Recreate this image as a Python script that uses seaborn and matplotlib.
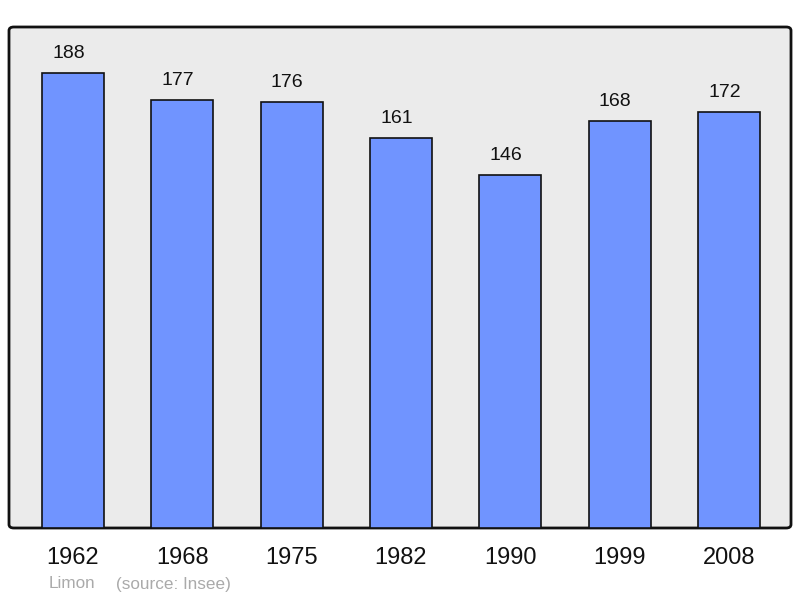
import matplotlib
matplotlib.use("Agg")
import matplotlib.pyplot as plt
from matplotlib.patches import FancyBboxPatch
import seaborn as sns
import pandas as pd

years = ["1962", "1968", "1975", "1982", "1990", "1999", "2008"]
population = [188, 177, 176, 161, 146, 168, 172]
commune = "Limon"
source = "(source: Insee)"

sns.set_theme(style="white")
plt.rcParams['font.family'] = ['Liberation Sans', 'DejaVu Sans']

W, H = 800, 598
fig = plt.figure(figsize=(W / 100, H / 100), dpi=100)
left, right, top, bottom = 9, 791, 27, 528
ax = fig.add_axes([left / W, 1 - bottom / H, (right - left) / W, (bottom - top) / H])
ax.set_zorder(2)

df = pd.DataFrame({"year": years, "pop": population})
sns.barplot(data=df, x="year", y="pop", ax=ax, color="#7094ff", saturation=1,
            width=0.567, edgecolor="#111111", linewidth=1.2, zorder=3)

ax.set_xlim(-0.585, 6.567)
ax.set_ylim(0, 207)
ax.set_facecolor("none")
ax.patch.set_visible(False)
for s in ax.spines.values():
    s.set_visible(False)
ax.set_yticks([])
ax.set_xlabel("")
ax.set_ylabel("")
ax.tick_params(axis="x", length=0, labelsize=17, pad=14, colors="#111111")

bg = FancyBboxPatch((left / W, 1 - bottom / H), (right - left) / W, (bottom - top) / H,
                    boxstyle="round,pad=0,rounding_size=0.006",
                    transform=fig.transFigure, facecolor="#ebebeb", edgecolor="#111111",
                    linewidth=2, zorder=0)
fig.patches.append(bg)

for i, v in enumerate(population):
    ax.annotate(str(v), (i, v), xytext=(-4.5, 11), textcoords="offset pixels",
                ha="center", va="bottom", fontsize=14, color="#111111")

fig.text(49 / W, 1 - 584 / H, commune, fontsize=12.3, color="#aaaaaa", va="center", ha="left")
fig.text(116 / W, 1 - 584 / H, source, fontsize=12.3, color="#aaaaaa", va="center", ha="left")

fig.savefig("out.png", dpi=100)
